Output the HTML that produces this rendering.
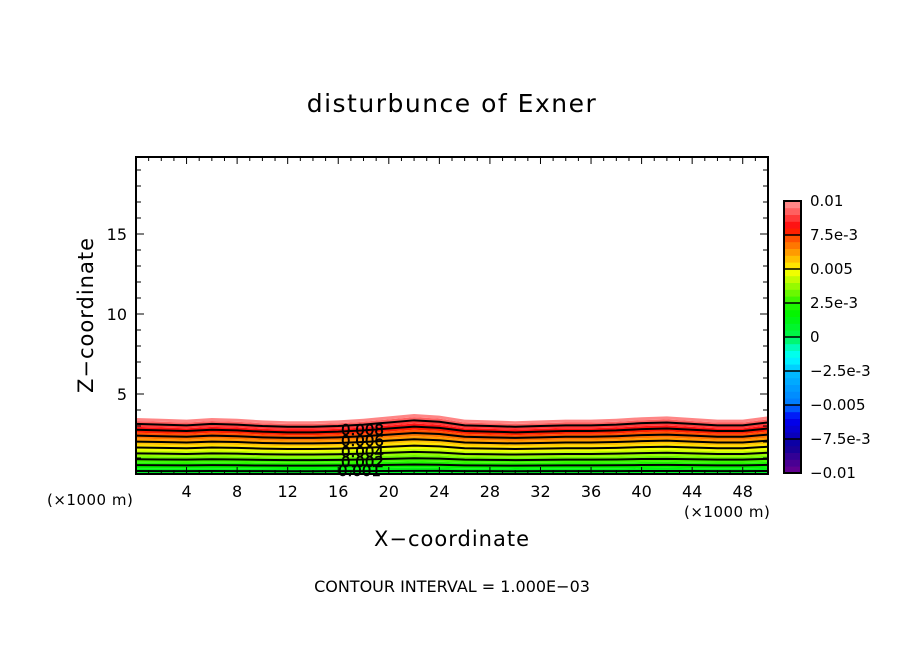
<!DOCTYPE html>
<html><head><meta charset="utf-8"><style>
body{margin:0;background:#fff;}
svg{display:block;font-family:"DejaVu Sans","Liberation Sans",sans-serif;}
</style></head><body>
<svg id="chart" width="904" height="654" viewBox="0 0 904 654">
<text x="452" y="112" text-anchor="middle" font-size="25" letter-spacing="1.5">disturbunce of Exner</text>
<g id="fills"></g>
<g id="lines"></g>
<g id="axes"></g>
<g id="cbar"></g>
<g font-size="15" font-family="DejaVu Sans,sans-serif" stroke="#000" stroke-width="0.5">
<text x="341" y="435">0.008</text><text x="341" y="446">0.006</text><text x="341" y="457">0.004</text><text x="341" y="467">0.002</text><text x="338" y="476">0.001</text>
</g>
<text x="452" y="546" text-anchor="middle" font-size="21" letter-spacing="1">X−coordinate</text>
<text transform="translate(93,315) rotate(-90)" text-anchor="middle" font-size="21" letter-spacing="1">Z−coordinate</text>
<text x="47" y="505" font-size="15" letter-spacing="0.5">(×1000 m)</text>
<text x="684" y="517" font-size="15" letter-spacing="0.5">(×1000 m)</text>
<text x="452" y="592" text-anchor="middle" font-size="16">CONTOUR INTERVAL = 1.000E−03</text>
</svg>
<script>
const xNodes=[0,2,4,6,8,10,12,14,16,18,20,22,24,26,28,30,32,34,36,38,40,42,44,46,48,50];
const topHeight=[3.5,3.45,3.4,3.5,3.45,3.35,3.3,3.3,3.35,3.45,3.6,3.75,3.65,3.4,3.35,3.3,3.35,3.4,3.4,3.45,3.55,3.6,3.5,3.4,3.4,3.6];
const contourLevels=[0.001,0.002,0.003,0.004,0.005,0.006,0.007,0.008,0.009];
const xTicks=[4,8,12,16,20,24,28,32,36,40,44,48];
const yTicks=[5,10,15];
const cbarLabels=["0.01","7.5e-3","0.005","2.5e-3","0","−2.5e-3","−0.005","−7.5e-3","−0.01"];
const baseValue=0.0005, topValue=0.01;
const X0=136,X1=768,Y0=474,Y1=157,XMAX=50,YMAX=(474-157)/16;
const sx=x=>X0+x/XMAX*(X1-X0), sy=z=>Y0-z/YMAX*(Y0-Y1);
const NS="http://www.w3.org/2000/svg";
function el(t,a,p){const e=document.createElementNS(NS,t);for(const k in a)e.setAttribute(k,a[k]);p.appendChild(e);return e;}
function bandColor(i){
  const keys=[[0,285,100,28],[4,245,100,30],[8,240,100,48],[10,212,100,50],[15,195,100,50],[18,172,100,50],[20,140,100,48],[25,110,100,48],[30,58,100,50],[35,15,100,50],[36,0,100,50],[40,0,100,80]];
  const t=i+0.5;let a=keys[0],b=keys[keys.length-1];
  for(let k=0;k<keys.length-1;k++){if(t>=keys[k][0]&&t<=keys[k+1][0]){a=keys[k];b=keys[k+1];break;}}
  const f=(t-a[0])/(b[0]-a[0]);
  return `hsl(${a[1]+(b[1]-a[1])*f},${a[2]+(b[2]-a[2])*f}%,${a[3]+(b[3]-a[3])*f}%)`;
}
function zOf(v,i){return topHeight[i]*(v-baseValue)/(topValue-baseValue);}
function pathAt(v){return xNodes.map((x,i)=>`${sx(x)},${sy(Math.max(0,zOf(v,i)))}`);}
const fills=document.getElementById('fills');
for(let b=20;b<40;b++){
  const lo=b===20?-1:(b-20)*0.0005, hi=(b-19)*0.0005;
  const lower=xNodes.map((x,i)=>`${sx(x)},${lo<0?Y0:sy(Math.max(0,zOf(lo,i)))}`);
  const upper=pathAt(hi);
  const p=el('polygon',{points:upper.concat(lower.reverse()).join(' '),fill:bandColor(b)},fills);
  
  
}
const lines=document.getElementById('lines');
contourLevels.forEach(v=>{
  const p=el('polyline',{points:pathAt(v).join(' '),fill:'none',stroke:'#000','stroke-width':2},lines);
  
  
});
const ax=document.getElementById('axes');
el('rect',{x:X0,y:Y1,width:X1-X0,height:Y0-Y1,fill:'none',stroke:'#000','stroke-width':2},ax);
for(let x=1;x<XMAX;x++){const L=x%4===0?7:4;el('line',{x1:sx(x),x2:sx(x),y1:Y0,y2:Y0-L,stroke:'#000'},ax);el('line',{x1:sx(x),x2:sx(x),y1:Y1,y2:Y1+L,stroke:'#000'},ax);}
for(let z=1;z<YMAX;z++){const L=z%5===0?8:5;el('line',{x1:X0,x2:X0+L,y1:sy(z),y2:sy(z),stroke:'#000'},ax);el('line',{x1:X1,x2:X1-L,y1:sy(z),y2:sy(z),stroke:'#000'},ax);}
xTicks.forEach(x=>{const t=el('text',{x:sx(x),y:497,'text-anchor':'middle','font-size':16},ax);t.textContent=x;
  
  });
yTicks.forEach(z=>{const t=el('text',{x:127,y:sy(z)+6,'text-anchor':'end','font-size':16},ax);t.textContent=z;
  
  });
const cb=document.getElementById('cbar');
const CT=201,CB=473,CX=784,CW=17,bh=(CB-CT)/40;
for(let i=0;i<40;i++){el('rect',{x:CX,y:CB-(i+1)*bh,width:CW,height:bh+0.4,fill:bandColor(i)},cb);}
for(let g=1;g<8;g++){el('line',{x1:CX,x2:CX+CW,y1:CT+g*(CB-CT)/8,y2:CT+g*(CB-CT)/8,stroke:'#000','stroke-width':1.5},cb);}
el('rect',{x:CX,y:CT,width:CW,height:CB-CT,fill:'none',stroke:'#000','stroke-width':2},cb);
cbarLabels.forEach((s,i)=>{const t=el('text',{x:810,y:CT+i*(CB-CT)/8+5,'font-size':15},cb);t.textContent=s;
  
  });
</script>
</body></html>
